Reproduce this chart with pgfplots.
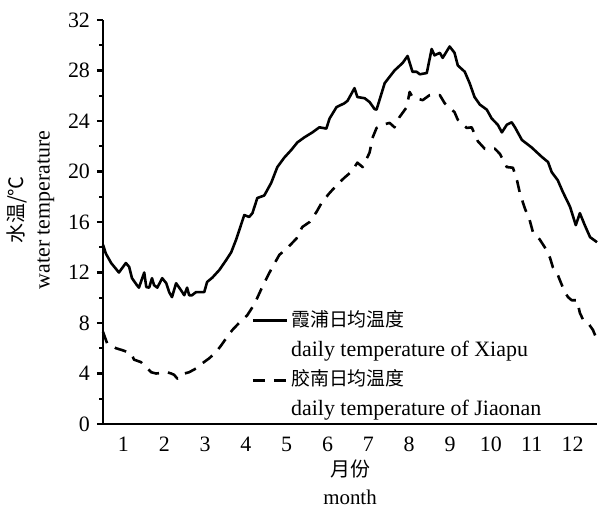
\documentclass[border=0pt]{standalone}
\usepackage{fontspec}
\setmainfont{Liberation Serif}
\newfontfamily\cjk{Noto Sans CJK SC}
\usepackage{pgfplots}
\usepackage{pgfplotstable}
\pgfplotsset{compat=1.18}

\pgfplotstableread{
m T
0.50 14.2
0.57 13.5
0.70 12.75
0.89 12.0
1.06 12.75
1.14 12.45
1.21 11.55
1.33 11.0
1.38 10.8
1.51 12.0
1.56 10.85
1.63 10.8
1.70 11.55
1.75 11.0
1.83 10.8
1.95 11.55
2.05 11.15
2.12 10.45
2.19 10.05
2.29 11.15
2.41 10.6
2.49 10.2
2.56 10.8
2.61 10.2
2.68 10.2
2.78 10.45
2.98 10.45
3.05 11.25
3.18 11.6
3.35 12.2
3.52 13.0
3.64 13.6
3.76 14.6
3.96 16.55
4.08 16.4
4.16 16.7
4.28 17.9
4.45 18.1
4.62 19.1
4.77 20.35
4.94 21.1
5.11 21.7
5.26 22.3
5.43 22.7
5.63 23.1
5.80 23.5
5.97 23.4
6.05 24.2
6.22 25.1
6.41 25.4
6.49 25.6
6.66 26.6
6.73 25.9
6.91 25.8
7.03 25.5
7.15 24.95
7.20 24.9
7.40 27.0
7.64 28.0
7.84 28.6
7.96 29.15
8.08 27.9
8.18 27.9
8.26 27.7
8.43 27.8
8.55 29.7
8.62 29.2
8.75 29.4
8.82 29.0
8.99 29.9
9.11 29.4
9.19 28.4
9.36 27.9
9.48 27.0
9.60 25.9
9.73 25.3
9.90 24.9
10.02 24.2
10.17 23.7
10.27 23.1
10.39 23.7
10.51 23.9
10.59 23.5
10.76 22.5
11.00 21.9
11.25 21.15
11.40 20.75
11.49 19.95
11.64 19.3
11.76 18.4
11.94 17.2
12.08 15.75
12.18 16.7
12.30 15.75
12.43 14.8
12.60 14.4
}\xiapu

\pgfplotstableread{
m T
0.50 7.3
0.60 6.4
0.82 6.0
0.97 5.85
1.19 5.6
1.26 5.1
1.43 4.9
1.56 4.5
1.68 4.1
1.80 4.0
2.07 4.1
2.17 4.0
2.24 3.9
2.32 3.6
2.41 3.9
2.49 4.0
2.61 4.1
2.78 4.4
2.93 4.8
3.10 5.2
3.27 5.7
3.40 6.25
3.54 6.9
3.67 7.45
3.89 8.2
4.03 8.6
4.21 9.5
4.28 10.0
4.40 10.85
4.57 11.95
4.75 13.0
4.82 13.4
5.02 13.95
5.24 14.7
5.38 15.6
5.56 16.0
5.73 16.8
5.87 17.6
6.05 18.3
6.22 18.9
6.41 19.5
6.59 20.0
6.73 20.7
6.86 20.35
7.03 21.5
7.10 22.65
7.20 23.45
7.35 23.7
7.52 23.85
7.64 23.5
7.76 24.3
7.94 25.1
8.01 26.3
8.08 25.9
8.33 25.65
8.50 26.05
8.75 26.05
8.87 25.4
9.11 24.7
9.19 24.1
9.41 23.45
9.53 23.5
9.68 22.4
9.85 21.8
10.10 21.8
10.22 21.4
10.39 20.35
10.54 20.3
10.64 19.3
10.71 18.3
10.83 17.1
10.95 16.15
11.03 15.2
11.20 14.6
11.32 14.0
11.45 13.15
11.52 12.4
11.64 11.8
11.74 11.0
11.81 10.45
11.89 10.05
11.98 9.8
12.11 9.8
12.18 8.8
12.26 8.25
12.38 8.0
12.50 7.45
12.57 6.9
}\jiaonan

\begin{document}
\begin{tikzpicture}
\begin{axis}[
  scale only axis, width=247bp, height=202bp,
  xmin=0.5, xmax=12.6, ymin=0, ymax=32,
  axis lines=left,
  axis line style={-, line width=1.3pt},
  xtick={1,...,12},
  xtick style={draw=none},
  extra x ticks={0.5,1.5,...,12.5},
  extra x tick labels={},
  ytick={0,4,...,32},
  minor ytick={2,6,...,30},
  tick align=outside,
  major tick length=3bp,
  minor tick length=1.8bp,
  tick style={line width=1.1pt, black},
  /pgf/number format/assume math mode=true,
  ticklabel style={font=\fontsize{11}{13}\selectfont},
  xlabel={{\cjk\fontsize{10}{12}\selectfont 月份}\\month},
  ylabel={{\cjk\fontsize{10}{12}\selectfont 水温/℃}\\water temperature},
  xlabel style={align=center, font=\fontsize{10.5}{14}\selectfont, yshift=9bp},
  ylabel style={align=center, font=\fontsize{11}{13}\selectfont},
  every axis y label/.append style={at={(ticklabel cs:0.53)}},
  legend style={at={(axis description cs:0.30,0.29)}, anchor=north west,
    draw=none, fill=none, inner sep=0pt, row sep=1.5pt,
    font=\fontsize{11}{13}\selectfont,
    nodes={inner sep=1.5pt, text height=8pt, text depth=2.5pt}},
  legend cell align=left,
  clip=false,
]
\addplot[black, line width=1.3pt, line join=round] table[x=m, y=T] {\xiapu};
\addlegendentry{{\cjk\fontsize{9.5}{11}\selectfont 霞浦日均温度}}
\addlegendimage{empty legend}
\addlegendentry{daily temperature of Xiapu}
\addplot[black, line width=1.3pt, line join=round, dash pattern=on 6bp off 4.5bp] table[x=m, y=T] {\jiaonan};
\addlegendentry{{\cjk\fontsize{9.5}{11}\selectfont 胶南日均温度}}
\addlegendimage{empty legend}
\addlegendentry{daily temperature of Jiaonan}
\coordinate (bbSW) at (axis description cs:-0.2085,-0.2178);
\coordinate (bbNE) at (axis description cs:1.0101,1.0495);
\end{axis}
\pgfresetboundingbox
\path[use as bounding box] (bbSW) rectangle (bbNE);
\end{tikzpicture}
\end{document}
